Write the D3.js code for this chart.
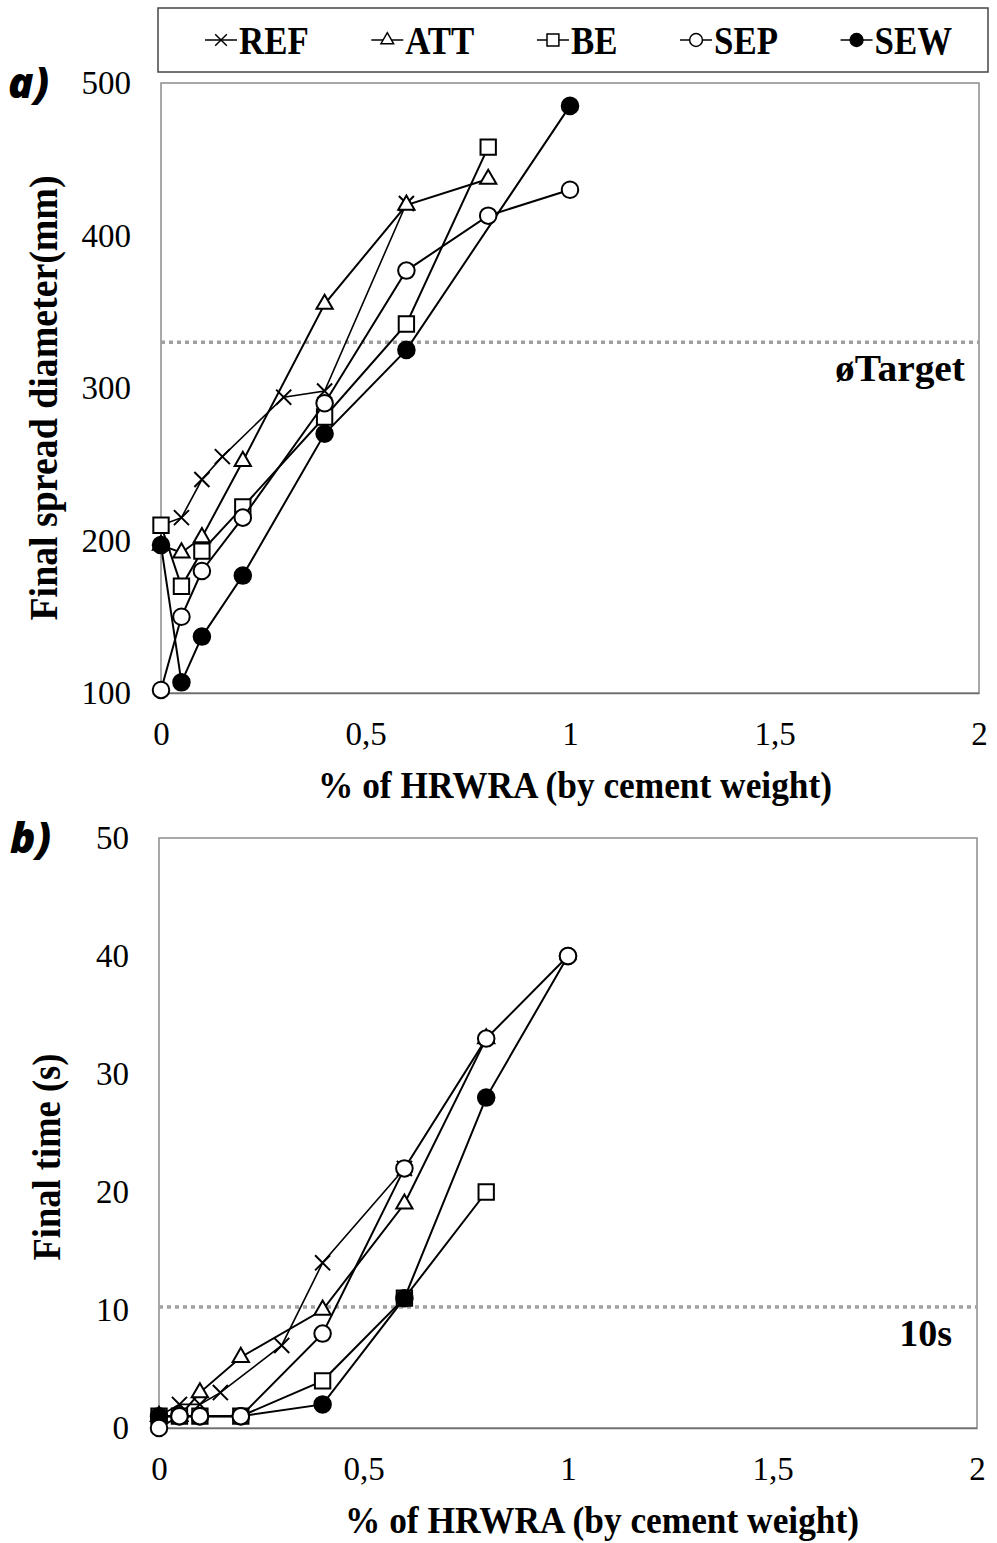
<!DOCTYPE html>
<html>
<head>
<meta charset="utf-8">
<script src="https://cdn.jsdelivr.net/npm/d3@7"></script>
<style>
  body { margin: 0; background: #fff; }
  svg { display: block; background: #fff; }
</style>
</head>
<body>
<svg width="997" height="1543"></svg>
<script>
// legend order of the mixes
var seriesNames = ["REF", "ATT", "BE", "SEP", "SEW"];
// drawing order (SEP markers end up on top)
var drawOrder = ["REF", "ATT", "BE", "SEW", "SEP"];

// % of HRWRA (by cement weight) for each mix
var xRef = [0, 0.05, 0.1, 0.15, 0.3, 0.4, 0.6];
var xAtt = [0, 0.05, 0.1, 0.2, 0.4, 0.6, 0.8];
var xBe = [0, 0.05, 0.1, 0.2, 0.4, 0.6, 0.8];
var xSep = [0, 0.05, 0.1, 0.2, 0.4, 0.6, 0.8, 1];
var xSewSpread = [0, 0.05, 0.1, 0.2, 0.4, 0.6, 1];
var xSewTime = [0, 0.05, 0.1, 0.2, 0.4, 0.6, 0.8, 1];

// a) final spread diameter (mm)
var spreadRef = [210, 215, 240, 255, 294, 298, 421];
var spreadAtt = [197, 192, 202, 252, 355, 420, 437];
var spreadBe = [210, 170, 193, 222, 281, 342, 458];
var spreadSep = [102, 150, 180, 215, 290, 377, 413, 430];
var spreadSew = [197, 107, 137, 177, 270, 325, 485];

// b) final time (s)
var timeRef = [1, 2, 2, 3, 7, 14, 22];
var timeAtt = [1, 1, 3, 6, 10, 19, 33];
var timeBe = [1, 1, 1, 1, 4, 11, 20];
var timeSep = [0, 1, 1, 1, 8, 22, 33, 40];
var timeSew = [1, 1, 1, 1, 2, 11, 28, 40];

// reference lines
var spreadTarget = 330;
var timeTarget = 10.25;

// ticks
var xTicks = [0, 0.5, 1, 1.5, 2];
var spreadTicks = [100, 200, 300, 400, 500];
var timeTicks = [0, 10, 20, 30, 40, 50];

var svg = d3.select("svg");
var serif = "'Liberation Serif', 'Times New Roman', serif";

function zip(xs, ys) {
  return xs.map(function(v, i) { return [v, ys[i]]; });
}

// marker for each mix
var markerOf = {
  REF: { type: d3.symbolX, size: 150, fill: "none" },
  ATT: { type: d3.symbolTriangle2, size: 190, fill: "#fff" },
  BE: { type: d3.symbolSquare2, size: 300, fill: "#fff" },
  SEP: { type: d3.symbolCircle, size: 215, fill: "#fff" },
  SEW: { type: d3.symbolCircle, size: 215, fill: "#000" }
};

function fmtX(d) {
  return String(d).replace(".", ",");
}

// bold serif text squeezed to a given length (the original type is tall and narrow)
function boldText(sel, size, len) {
  sel.attr("font-family", serif).attr("font-weight", "bold").attr("font-size", size);
  if (len) sel.attr("textLength", len).attr("lengthAdjust", "spacingAndGlyphs");
  return sel;
}

//////////// PANELS ////////////

function drawPanel(p) {
  var x = d3.scaleLinear().domain([0, 2]).range([p.left, p.right]);
  var y = d3.scaleLinear().domain(p.yDomain).range([p.bottom, p.top]);

  var g = svg.append("g");

  // plot frame
  g.append("rect")
    .attr("x", p.left).attr("y", p.top)
    .attr("width", p.right - p.left).attr("height", p.bottom - p.top)
    .attr("fill", "none").attr("stroke", "#8c8c8c").attr("stroke-width", 1.5);

  // y axis labels
  var ya = g.append("g")
    .attr("transform", "translate(" + p.left + ",0)")
    .call(d3.axisLeft(y).tickValues(p.yTicks).tickSize(0).tickPadding(30));
  ya.select(".domain").remove();
  ya.selectAll("text")
    .attr("font-family", serif).attr("font-size", 33).attr("fill", "#000");

  // x axis
  var xa = g.append("g")
    .attr("transform", "translate(0," + p.bottom + ")")
    .call(d3.axisBottom(x).tickValues(xTicks).tickFormat(fmtX).tickSize(0).tickPadding(29));
  xa.select(".domain").attr("stroke", "#6e6e6e").attr("stroke-width", 1.5);
  xa.selectAll("text")
    .attr("font-family", serif).attr("font-size", 33).attr("fill", "#000");

  // target line
  g.append("line")
    .attr("x1", p.left).attr("x2", p.right)
    .attr("y1", y(p.target)).attr("y2", y(p.target))
    .attr("stroke", "#a0a0a0").attr("stroke-width", 3.5)
    .attr("stroke-dasharray", "4,4");
  boldText(g.append("text"), 38, p.targetLen)
    .attr("x", p.right - p.targetPad).attr("y", y(p.target) + 39)
    .attr("text-anchor", "end")
    .text(p.targetLabel);

  // series
  var line = d3.line()
    .x(function(d) { return x(d[0]); })
    .y(function(d) { return y(d[1]); });

  drawOrder.forEach(function(name) {
    var pts = p.series[name];
    var m = markerOf[name];
    g.append("path")
      .attr("d", line(pts))
      .attr("fill", "none").attr("stroke", "#000")
      .attr("stroke-width", name == "REF" ? 1.6 : 2);
    g.selectAll(null)
      .data(pts)
      .enter().append("path")
      .attr("transform", function(d) { return "translate(" + x(d[0]) + "," + y(d[1]) + ")"; })
      .attr("d", d3.symbol().type(m.type).size(m.size))
      .attr("fill", m.fill).attr("stroke", "#000").attr("stroke-width", 2);
  });

  // axis titles
  boldText(g.append("text"), 38, 514)
    .attr("x", p.xTitleX).attr("y", p.bottom + 105)
    .attr("text-anchor", "middle")
    .text("% of HRWRA (by cement weight)");
  boldText(g.append("text"), 39, p.yTitleLen)
    .attr("transform", "translate(" + p.yTitleX + "," + p.yTitleY + ") rotate(-90)")
    .attr("text-anchor", "middle")
    .text(p.yTitle);

  // panel tag
  g.append("text")
    .attr("x", p.tagX).attr("y", p.tagY)
    .attr("font-family", "'Open Sans', 'DejaVu Sans', sans-serif")
    .attr("font-weight", 800).attr("font-style", "italic").attr("font-size", 42)
    .text(p.tag);
}

drawPanel({
  left: 161, right: 979, top: 83, bottom: 693,
  yDomain: [100, 500], yTicks: spreadTicks,
  target: spreadTarget, targetLabel: "øTarget", targetPad: 14, targetLen: 130,
  yTitle: "Final spread diameter(mm)", yTitleX: 57, yTitleY: 398, yTitleLen: 445,
  xTitleX: 575,
  tag: "a)", tagX: 8, tagY: 98,
  series: {
    REF: zip(xRef, spreadRef),
    ATT: zip(xAtt, spreadAtt),
    BE: zip(xBe, spreadBe),
    SEP: zip(xSep, spreadSep),
    SEW: zip(xSewSpread, spreadSew)
  }
});

drawPanel({
  left: 159, right: 977, top: 838, bottom: 1428,
  yDomain: [0, 50], yTicks: timeTicks,
  target: timeTarget, targetLabel: "10s", targetPad: 25, targetLen: 0,
  yTitle: "Final time (s)", yTitleX: 60, yTitleY: 1157, yTitleLen: 207,
  xTitleX: 602,
  tag: "b)", tagX: 10, tagY: 853,
  series: {
    REF: zip(xRef, timeRef),
    ATT: zip(xAtt, timeAtt),
    BE: zip(xBe, timeBe),
    SEP: zip(xSep, timeSep),
    SEW: zip(xSewTime, timeSew)
  }
});

//////////// LEGEND ////////////

var legend = svg.append("g");
legend.append("rect")
  .attr("x", 158).attr("y", 8).attr("width", 830).attr("height", 64)
  .attr("fill", "#fff").attr("stroke", "#444").attr("stroke-width", 1.5);

var items = legend.selectAll(".item")
  .data(seriesNames)
  .enter().append("g").attr("class", "item");

items.append("line")
  .attr("x1", -16).attr("x2", 16).attr("y1", 0).attr("y2", 0)
  .attr("stroke", "#000").attr("stroke-width", 1.5);
items.append("path")
  .attr("d", function(d) {
    return d3.symbol().type(markerOf[d].type).size(markerOf[d].size * 0.6)();
  })
  .attr("fill", function(d) { return markerOf[d].fill; })
  .attr("stroke", "#000").attr("stroke-width", 1.5);
items.append("text")
  .attr("x", 0).attr("y", 0)
  .attr("transform", "translate(18,14) scale(0.85,1)")
  .attr("font-family", serif).attr("font-weight", "bold").attr("font-size", 41)
  .text(function(d) { return d; });

// spread the items evenly between both ends of the box
var widths = [];
items.each(function() {
  widths.push(this.getBBox().width);
});
var startX = 205, endX = 952;
var gap = (endX - startX - d3.sum(widths)) / (widths.length - 1);
var cursor = startX;
items.attr("transform", function(d, i) {
  var tx = cursor + 16;
  cursor += widths[i] + gap;
  return "translate(" + tx + ",40)";
});
</script>
</body>
</html>
